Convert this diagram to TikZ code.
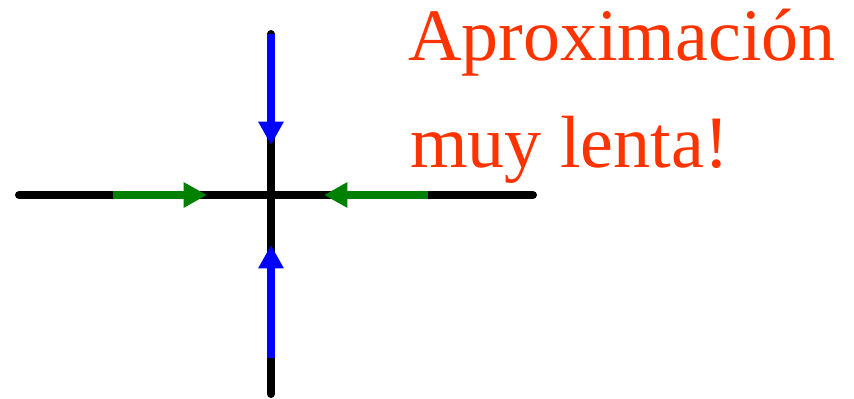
\documentclass[tikz,border=0pt]{standalone}
\usepackage{fontspec}
\newfontfamily\timesfont{Liberation Serif}
\usetikzlibrary{arrows.meta}
\definecolor{txtred}{RGB}{255,51,0}
\definecolor{arrblue}{RGB}{0,0,255}
\definecolor{arrgreen}{RGB}{0,128,0}
\begin{document}
\begin{tikzpicture}[x=0.75pt,y=-0.75pt,
  axis/.style={draw=black,line width=6pt,line cap=round},
  flow/.style={line width=6pt,line cap=butt,-{Triangle[length=17.5pt,width=18pt]}},
  txtlabel/.style={text=txtred,font=\timesfont\fontsize{55.5pt}{60pt}\selectfont,inner sep=0pt,anchor=base west}]
\useasboundingbox (0,0) rectangle (854,399);
% axes
\coordinate (hl) at (19,195);
\coordinate (hr) at (533,195);
\coordinate (vt) at (271,34);
\coordinate (vb) at (271,394);
\draw[axis] (hl) -- (hr);
\draw[axis] (vt) -- (vb);
% arrows
\coordinate (gls) at (113,195);
\coordinate (gle) at (207,195);
\coordinate (grs) at (428,195);
\coordinate (gre) at (324,195);
\coordinate (bts) at (271,34);
\coordinate (bte) at (271,145);
\coordinate (bbs) at (271,358);
\coordinate (bbe) at (271,245);
\draw[flow,draw=arrgreen,fill=arrgreen] (gls) -- (gle);
\draw[flow,draw=arrgreen,fill=arrgreen] (grs) -- (gre);
\draw[flow,draw=arrblue,fill=arrblue] (bts) -- (bte);
\draw[flow,draw=arrblue,fill=arrblue] (bbs) -- (bbe);
% text
\node[txtlabel] (t1) at (408,61) {Aproximación};
\node[txtlabel] (t2) at (410,168) {muy lenta!};
\end{tikzpicture}
\end{document}
